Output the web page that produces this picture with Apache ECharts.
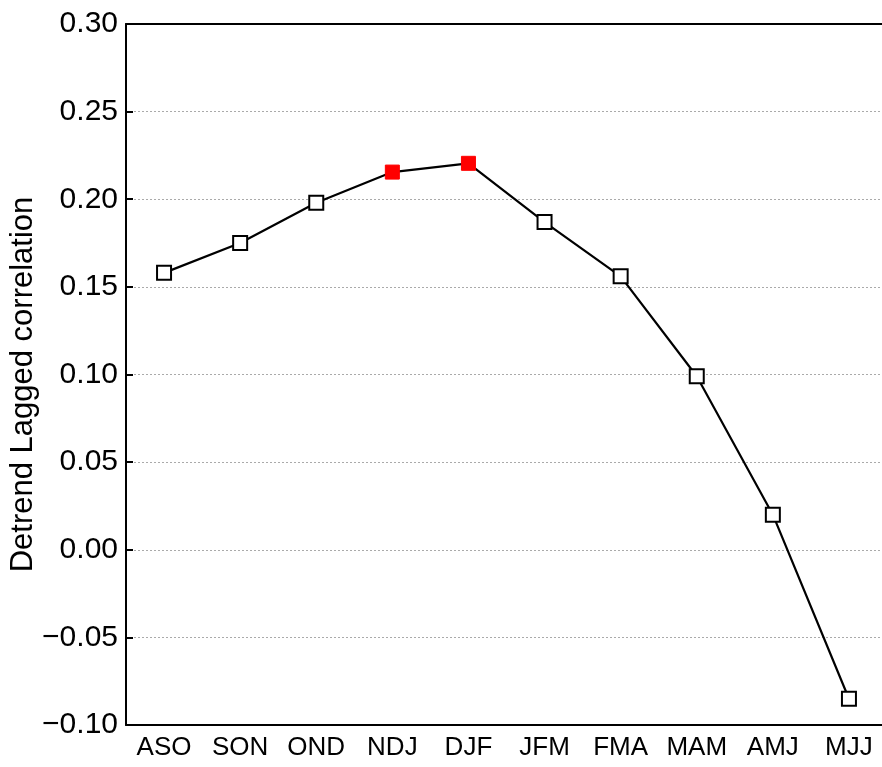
<!DOCTYPE html>
<html>
<head>
<meta charset="utf-8">
<script src="https://cdn.jsdelivr.net/npm/echarts@6/dist/echarts.min.js"></script>
<style>html,body{margin:0;padding:0;background:#fff}#c{width:882px;height:767px}</style>
</head>
<body>
<div id="c"></div>
<script>
const categories = ['ASO','SON','OND','NDJ','DJF','JFM','FMA','MAM','AMJ','MJJ'];
const values = [0.158, 0.175, 0.198, 0.2155, 0.2205, 0.187, 0.156, 0.099, 0.020, -0.085];
const highlighted = ['NDJ','DJF'];
const yTicks = {min: -0.10, max: 0.30, interval: 0.05};

const font = 'Liberation Sans, Arial, sans-serif';
const chart = echarts.init(document.getElementById('c'));
const data = values.map((v, i) => {
  const hi = highlighted.includes(categories[i]);
  return {
    value: v,
    itemStyle: hi ? {color: '#ff0000', borderColor: '#ff0000', borderWidth: 1}
                  : {color: '#ffffff', borderColor: '#000000', borderWidth: 2}
  };
});
chart.setOption({
  animation: false,
  grid: {left: 126, right: -5, top: 24, bottom: 42, containLabel: false, outerBoundsMode: 'none'},
  xAxis: [{
    type: 'category', data: categories, boundaryGap: true,
    axisLine: {onZero: false, lineStyle: {color: '#000', width: 2}},
    axisTick: {inside: true, alignWithLabel: true, length: 7, lineStyle: {color: '#000', width: 2}},
    axisLabel: {color: '#000', fontSize: 26, fontFamily: font, margin: 10, interval: 0, hideOverlap: false},
    splitLine: {show: false}
  }, {
    type: 'category', data: categories, position: 'top', boundaryGap: true,
    axisLine: {onZero: false, lineStyle: {color: '#000', width: 2}},
    axisTick: {inside: true, alignWithLabel: true, length: 7, lineStyle: {color: '#000', width: 2}},
    axisLabel: {show: false},
    splitLine: {show: false}
  }],
  yAxis: {
    type: 'value', min: yTicks.min, max: yTicks.max, interval: yTicks.interval,
    name: 'Detrend Lagged correlation', nameLocation: 'middle', nameGap: 87, nameMoveOverlap: false,
    nameTextStyle: {color: '#000', fontSize: 31, fontFamily: font, padding: [0, 20, 0, 0]},
    axisLine: {show: true, lineStyle: {color: '#000', width: 2}},
    axisTick: {show: true, inside: true, length: 7, lineStyle: {color: '#000', width: 2}},
    axisLabel: {color: '#000', fontSize: 30, fontFamily: font, margin: 8,
      formatter: v => (v < 0 ? '\u2212' : '') + Math.abs(v).toFixed(2)},
    splitLine: {show: true, lineStyle: {color: '#aaa', type: [2, 2], width: 1}}
  },
  series: [{
    type: 'line', data: data,
    symbol: 'rect', symbolSize: 14,
    lineStyle: {color: '#000', width: 2.2},
    z: 3
  }]
});
</script>
</body>
</html>
